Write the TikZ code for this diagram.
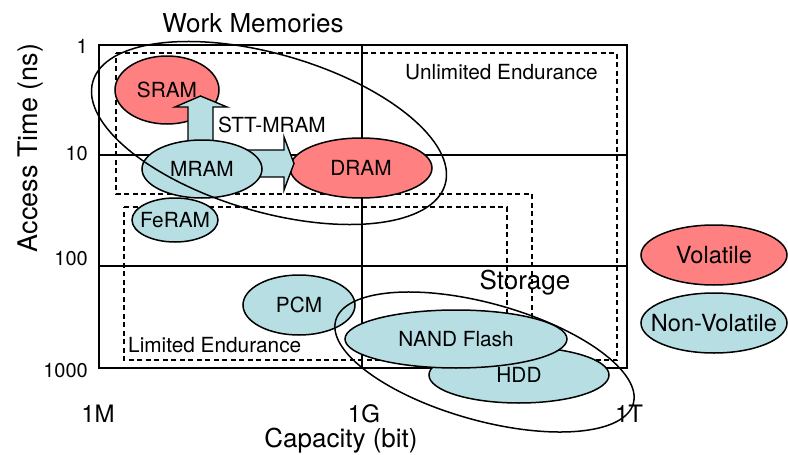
\documentclass[tikz,border=0pt]{standalone}
\usepackage{fontspec}
\setmainfont{TeX Gyre Heros}
\usetikzlibrary{shapes.geometric}
\definecolor{volred}{RGB}{255,128,128}
\definecolor{nvcyan}{RGB}{183,223,227}
\newcommand{\ctxt}[1]{\makebox[0pt][c]{#1}}
\begin{document}
\begin{tikzpicture}[x=1pt,y=-1pt,
  frame/.style={line width=2pt},
  grid/.style={line width=1.5pt},
  region/.style={line width=1.4pt, dash pattern=on 5pt off 3.5pt},
  mem/.style={ellipse, draw, line width=1.5pt, inner sep=0pt, outer sep=0pt, font=\fontsize{20.8}{24}\selectfont},
  vol/.style={mem, fill=volred},
  nvol/.style={mem, fill=nvcyan},
  group/.style={ellipse, draw, line width=1.5pt, inner sep=0pt},
  fatarrow/.style={fill=nvcyan, draw, line width=1.4pt, line join=miter},
  lbl/.style={inner sep=0pt, font=\fontsize{20.8}{24}\selectfont},
  big/.style={inner sep=0pt, font=\fontsize{26}{30}\selectfont},
  ytick/.style={inner sep=0pt, anchor=base east, font=\fontsize{20}{24}\selectfont},
  xtick/.style={inner sep=0pt, anchor=base, font=\fontsize{24}{28}\selectfont},
  legend/.style={mem, font=\fontsize{23.6}{28}\selectfont}]
\useasboundingbox (0,0) rectangle (788,455);
% frame and grid
\coordinate (tl) at (99,45);
\coordinate (br) at (627,368);
\draw[grid] (362,45) -- (362,368);
\draw[grid] (99,155) -- (627,155);
\draw[grid] (99,266) -- (627,266);
\draw[frame] (tl) rectangle (br);
% endurance regions
\draw[region] (116,53) -- (617,53) -- (617,360) -- (532,360) -- (532,194) -- (116,194) -- cycle;
\draw[region] (124,207) -- (507,207) -- (507,360) -- (124,360) -- cycle;
% memories
\node[vol, minimum width=104, minimum height=68] (sram) at (167,90) {\ctxt{SRAM}};
\node[vol, minimum width=142, minimum height=60] (dram) at (361,168) {\ctxt{DRAM}};
\node[nvol, minimum width=86, minimum height=44] (feram) at (175,220) {\ctxt{FeRAM}};
\node[nvol, minimum width=112, minimum height=60] (pcm) at (299,305) {\ctxt{PCM}};
\node[nvol, minimum width=180, minimum height=56] (hdd) at (519,375) {\ctxt{HDD}};
\node[nvol, minimum width=222, minimum height=58] (nand) at (456,339) {\ctxt{NAND Flash}};
% STT-MRAM arrows
\draw[fatarrow] (188,150) -- (188,107) -- (175,107) -- (200.5,96) -- (227,107) -- (213,107) -- (213,150) -- cycle;
\draw[fatarrow] (240,150) -- (284,150) -- (284,137) -- (294,163.5) -- (284,190) -- (284,177) -- (240,177) -- cycle;
\node[nvol, minimum width=120, minimum height=58] (mram) at (202,169) {\ctxt{MRAM}};
\node[lbl, anchor=base west] (stt) at (218,132) {STT-MRAM};
% groups
\node[group, minimum width=367, minimum height=157.6, rotate=-16.3] (work) at (269,133) {};
\node[group, minimum width=309, minimum height=117, rotate=-15.6] (storage) at (484.5,362) {};
\node[big, anchor=base] (worklbl) at (253,32) {Work Memories};
\node[big, anchor=base] (storlbl) at (525,289) {Storage};
\node[lbl, anchor=base west] (unlim) at (405,79) {Unlimited Endurance};
\node[lbl, anchor=base west] (lim) at (128,352) {Limited Endurance};
% legend
\node[legend, fill=volred, minimum width=146, minimum height=60] (legv) at (714,255) {\ctxt{Volatile}};
\node[legend, fill=nvcyan, minimum width=146, minimum height=60] (legnv) at (714,323) {\ctxt{Non-Volatile}};
% axes
\node[ytick] (y1) at (88,53) {1};
\node[ytick] (y10) at (88,160) {10};
\node[ytick] (y100) at (88,265) {100};
\node[ytick] (y1000) at (88,377) {1000};
\node[xtick] (x1m) at (98,422) {1M};
\node[xtick] (x1g) at (364,422) {1G};
\node[xtick] (x1t) at (629,422) {1T};
\node[inner sep=0pt, anchor=base, font=\fontsize{26}{30}\selectfont] (xlab) at (341,447) {Capacity (bit)};
\node[inner sep=0pt, anchor=base, rotate=90, font=\fontsize{27}{30}\selectfont] (ylab) at (37,148) {Access Time (ns)};
\end{tikzpicture}
\end{document}
